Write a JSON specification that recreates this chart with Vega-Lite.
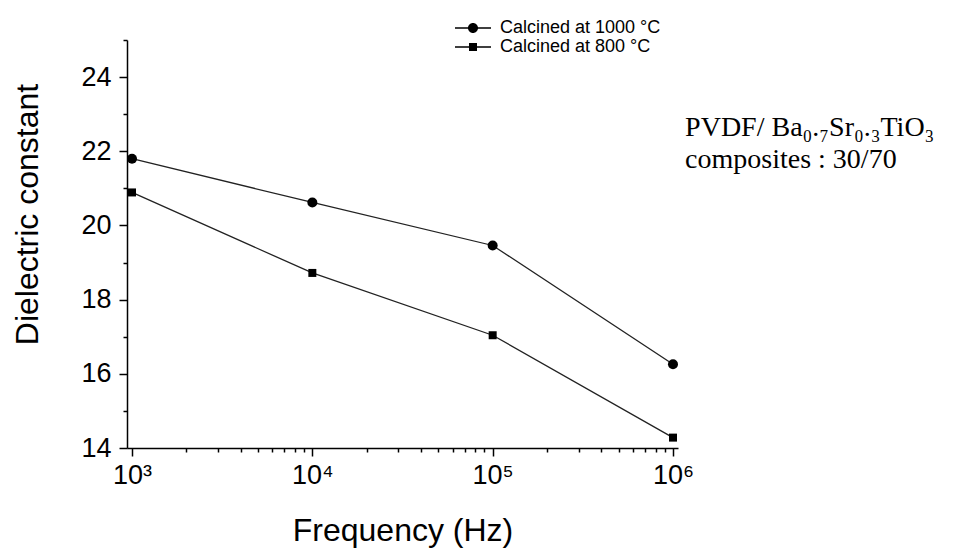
{
  "$schema": "https://vega.github.io/schema/vega-lite/v6.json",
  "width": 551,
  "height": 408,
  "autosize": {"type": "none"},
  "padding": {"left": 127, "top": 40, "right": 289, "bottom": 100},
  "background": "white",
  "config": {"view": {"stroke": null}, "font": "Liberation Sans"},
  "datasets": {
    "series": [
      {"freq": 1000, "eps": 21.8, "series": "Calcined at 1000 °C"},
      {"freq": 10000, "eps": 20.62, "series": "Calcined at 1000 °C"},
      {"freq": 100000, "eps": 19.46, "series": "Calcined at 1000 °C"},
      {"freq": 1000000, "eps": 16.26, "series": "Calcined at 1000 °C"},
      {"freq": 1000, "eps": 20.89, "series": "Calcined at 800 °C"},
      {"freq": 10000, "eps": 18.72, "series": "Calcined at 800 °C"},
      {"freq": 100000, "eps": 17.04, "series": "Calcined at 800 °C"},
      {"freq": 1000000, "eps": 14.28, "series": "Calcined at 800 °C"}
    ],
    "notes": [
      {"freq": 1167000, "eps": 22.41, "text": "PVDF/ Ba₀.₇Sr₀.₃TiO₃"},
      {"freq": 1167000, "eps": 21.55, "text": "composites : 30/70"}
    ]
  },
  "encoding": {
    "x": {
      "field": "freq",
      "type": "quantitative",
      "scale": {"type": "log", "domain": [938, 1066000]},
      "axis": {
        "values": [1000, 2000, 3000, 4000, 5000, 6000, 7000, 8000, 9000, 10000, 20000, 30000, 40000, 50000, 60000, 70000, 80000, 90000, 100000, 200000, 300000, 400000, 500000, 600000, 700000, 800000, 900000, 1000000],
        "labelExpr": "datum.value == 1000 ? '10³' : datum.value == 10000 ? '10⁴' : datum.value == 100000 ? '10⁵' : datum.value == 1000000 ? '10⁶' : ''",
        "tickSize": {"condition": {"test": "datum.value == 1000 || datum.value == 10000 || datum.value == 100000 || datum.value == 1000000", "value": 8}, "value": 4},
        "grid": false,
        "domainColor": "black",
        "domainWidth": 1.5,
        "tickColor": "black",
        "tickWidth": 1.5,
        "labelFontSize": 27,
        "labelColor": "black",
        "labelPadding": 6,
        "labelOverlap": false,
        "labelFlush": false,
        "title": "Frequency (Hz)",
        "titleFontSize": 32,
        "titleFontWeight": "normal",
        "titleColor": "black",
        "titlePadding": 27
      }
    },
    "y": {
      "field": "eps",
      "type": "quantitative",
      "scale": {"domain": [14, 25], "nice": false, "zero": false},
      "axis": {
        "values": [14, 15, 16, 17, 18, 19, 20, 21, 22, 23, 24, 25],
        "labelExpr": "datum.value % 2 == 0 ? datum.label : ''",
        "tickSize": {"condition": {"test": "datum.value % 2 == 0", "value": 8}, "value": 4},
        "grid": false,
        "domainColor": "black",
        "domainWidth": 1.5,
        "tickColor": "black",
        "tickWidth": 1.5,
        "labelFontSize": 27,
        "labelColor": "black",
        "labelPadding": 8,
        "labelOverlap": false,
        "labelFlush": false,
        "title": "Dielectric constant",
        "titleFontSize": 32,
        "titleFontWeight": "normal",
        "titleColor": "black",
        "titlePadding": 36,
        "titleY": 174
      }
    }
  },
  "layer": [
    {
      "data": {"name": "series"},
      "mark": {"type": "line", "color": "#222", "strokeWidth": 1.3},
      "encoding": {"detail": {"field": "series"}}
    },
    {
      "data": {"name": "series"},
      "mark": {"type": "point", "filled": true, "color": "black", "opacity": 1},
      "encoding": {
        "shape": {"field": "series", "scale": {"domain": ["Calcined at 1000 °C", "Calcined at 800 °C"], "range": ["circle", "square"]}, "legend": null},
        "size": {"field": "series", "scale": {"domain": ["Calcined at 1000 °C", "Calcined at 800 °C"], "range": [100, 64]}, "legend": null}
      }
    },
    {
      "data": {"name": "series"},
      "mark": {"type": "point", "filled": true, "color": "black", "opacity": 0},
      "encoding": {
        "shape": {
          "field": "series",
          "scale": {"domain": ["Calcined at 1000 °C", "Calcined at 800 °C"], "range": ["M-3.6,-0.13H3.6V0.13H-3.6ZM-1,0A1,1,0,1,1,1,0A1,1,0,1,1,-1,0Z", "M-3.6,-0.13H3.6V0.13H-3.6ZM-0.8,-0.8H0.8V0.8H-0.8Z"]},
          "legend": {
            "orient": "none",
            "legendX": 337,
            "legendY": -21,
            "title": null,
            "padding": 0,
            "labelFontSize": 18,
            "labelFont": "Liberation Sans",
            "labelColor": "black",
            "labelLimit": 400,
            "symbolSize": 100,
            "symbolOpacity": 1,
            "symbolFillColor": "black",
            "symbolStrokeColor": "black",
            "symbolStrokeWidth": 0,
            "labelOffset": 18,
            "rowPadding": 1
          }
        }
      }
    },
    {
      "data": {"name": "notes"},
      "mark": {"type": "text", "align": "left", "baseline": "alphabetic", "font": "Liberation Serif", "fontSize": 28, "color": "black"},
      "encoding": {"text": {"field": "text"}}
    }
  ],
  "resolve": {"scale": {"shape": "independent"}}
}
